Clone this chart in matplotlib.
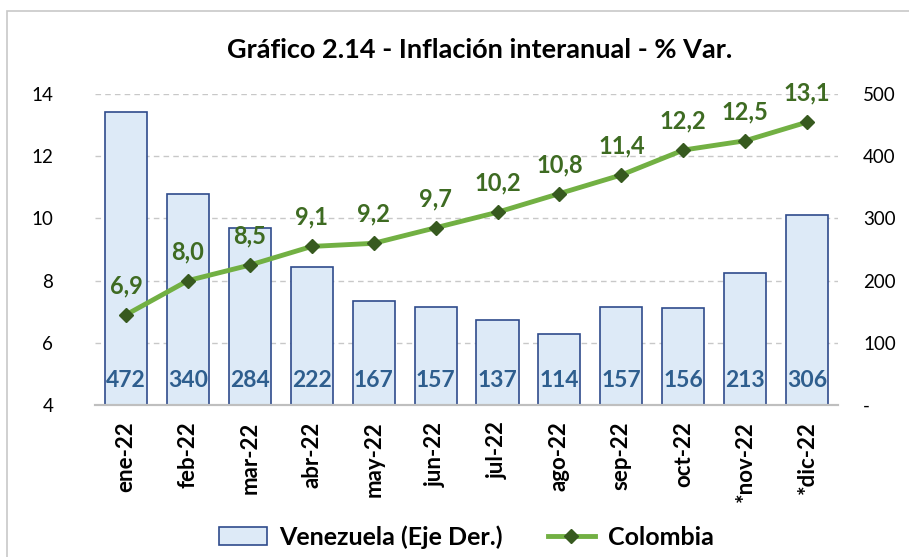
import matplotlib.pyplot as plt
from matplotlib.patches import Rectangle
from matplotlib.lines import Line2D

plt.rcParams['font.family'] = ['Lato', 'DejaVu Sans']

# Data
months = ['ene-22', 'feb-22', 'mar-22', 'abr-22', 'may-22', 'jun-22',
          'jul-22', 'ago-22', 'sep-22', 'oct-22', '*nov-22', '*dic-22']
venezuela = [472, 340, 284, 222, 167, 157, 137, 114, 157, 156, 213, 306]
colombia = [6.9, 8.0, 8.5, 9.1, 9.2, 9.7, 10.2, 10.8, 11.4, 12.2, 12.5, 13.1]

left_ticks = [4, 6, 8, 10, 12, 14]
right_ticks = [0, 100, 200, 300, 400, 500]
right_labels = ['-', '100', '200', '300', '400', '500']

bar_fill = '#DDEAF7'
bar_edge = '#2F4B8C'
bar_text = '#2E5E8E'
line_col = '#72B043'
marker_col = '#375A1F'
line_text = '#3E6B22'

fig = plt.figure(figsize=(9.09, 5.57), dpi=100)
fig.patches.append(Rectangle((0.008, -0.1), 1.2, 1.08, transform=fig.transFigure,
                             fill=False, edgecolor='#C8C8C8', linewidth=1.2))

ax = fig.add_axes([0.1045, 0.273, 0.8175, 0.558])
ax2 = ax.twinx()

x = list(range(len(months)))

# Venezuela bars on right axis
ax2.bar(x, venezuela, width=0.68, color=bar_fill, edgecolor=bar_edge, linewidth=1.2, zorder=2)
for xi, v in zip(x, venezuela):
    ax2.text(xi, 40, str(v), ha='center', va='center', fontsize=16.5,
             fontweight='bold', color=bar_text, zorder=3)
ax2.set_ylim(0, 500)
ax2.set_yticks(right_ticks)
ax2.set_yticklabels(right_labels, fontsize=13.5)

# Colombia line on left axis, in front of the bars
ax.set_zorder(ax2.get_zorder() + 1)
ax.patch.set_visible(False)
ax.plot(x, colombia, color=line_col, linewidth=3.5, marker='D', markersize=7,
        markerfacecolor=marker_col, markeredgecolor=marker_col, zorder=4)
for xi, v in zip(x, colombia):
    ax.annotate(f'{v:.1f}'.replace('.', ','), (xi, v), xytext=(0, 21),
                textcoords='offset points', ha='center', va='center',
                fontsize=17, fontweight='bold', color=line_text)

ax.set_ylim(4, 14)
ax.set_yticks(left_ticks)
ax.set_yticklabels([str(t) for t in left_ticks], fontsize=13.5)
ax.set_xlim(-0.5, len(months) - 0.5)
ax.set_xticks(x)
ax.set_xticklabels(months, rotation=90, fontsize=16, fontweight='bold')

# dashed gridlines behind the bars
for t in left_ticks[1:]:
    ax2.axhline((t - 4) * 50, color='#C8C8C8', linestyle=(0, (4, 3)), linewidth=1, zorder=1)

for a in (ax, ax2):
    for s in ('top', 'left', 'right'):
        a.spines[s].set_visible(False)
    a.spines['bottom'].set_color('#BFBFBF')
    a.spines['bottom'].set_linewidth(1.5)
    a.tick_params(length=0)
ax.tick_params(axis='y', pad=30)
ax.tick_params(axis='x', pad=12)
ax2.tick_params(axis='y', pad=18)

fig.text(0.528, 0.91, 'Gráfico 2.14 - Inflación interanual - % Var.', ha='center',
         va='center', fontsize=19.5, fontweight='bold')

handles = [Rectangle((0, 0), 1, 1, facecolor=bar_fill, edgecolor=bar_edge, linewidth=1.2),
           Line2D([0], [0], color=line_col, linewidth=3.5, marker='D', markersize=7,
                  markerfacecolor=marker_col, markeredgecolor=marker_col)]
fig.legend(handles, ['Venezuela (Eje Der.)', 'Colombia'], loc='center',
           bbox_to_anchor=(0.513, 0.036), ncol=2, frameon=False,
           prop={'size': 18, 'weight': 'bold'}, handlelength=1.9, handletextpad=0.5,
           columnspacing=1.8)

fig.savefig('out.png', dpi=100)
